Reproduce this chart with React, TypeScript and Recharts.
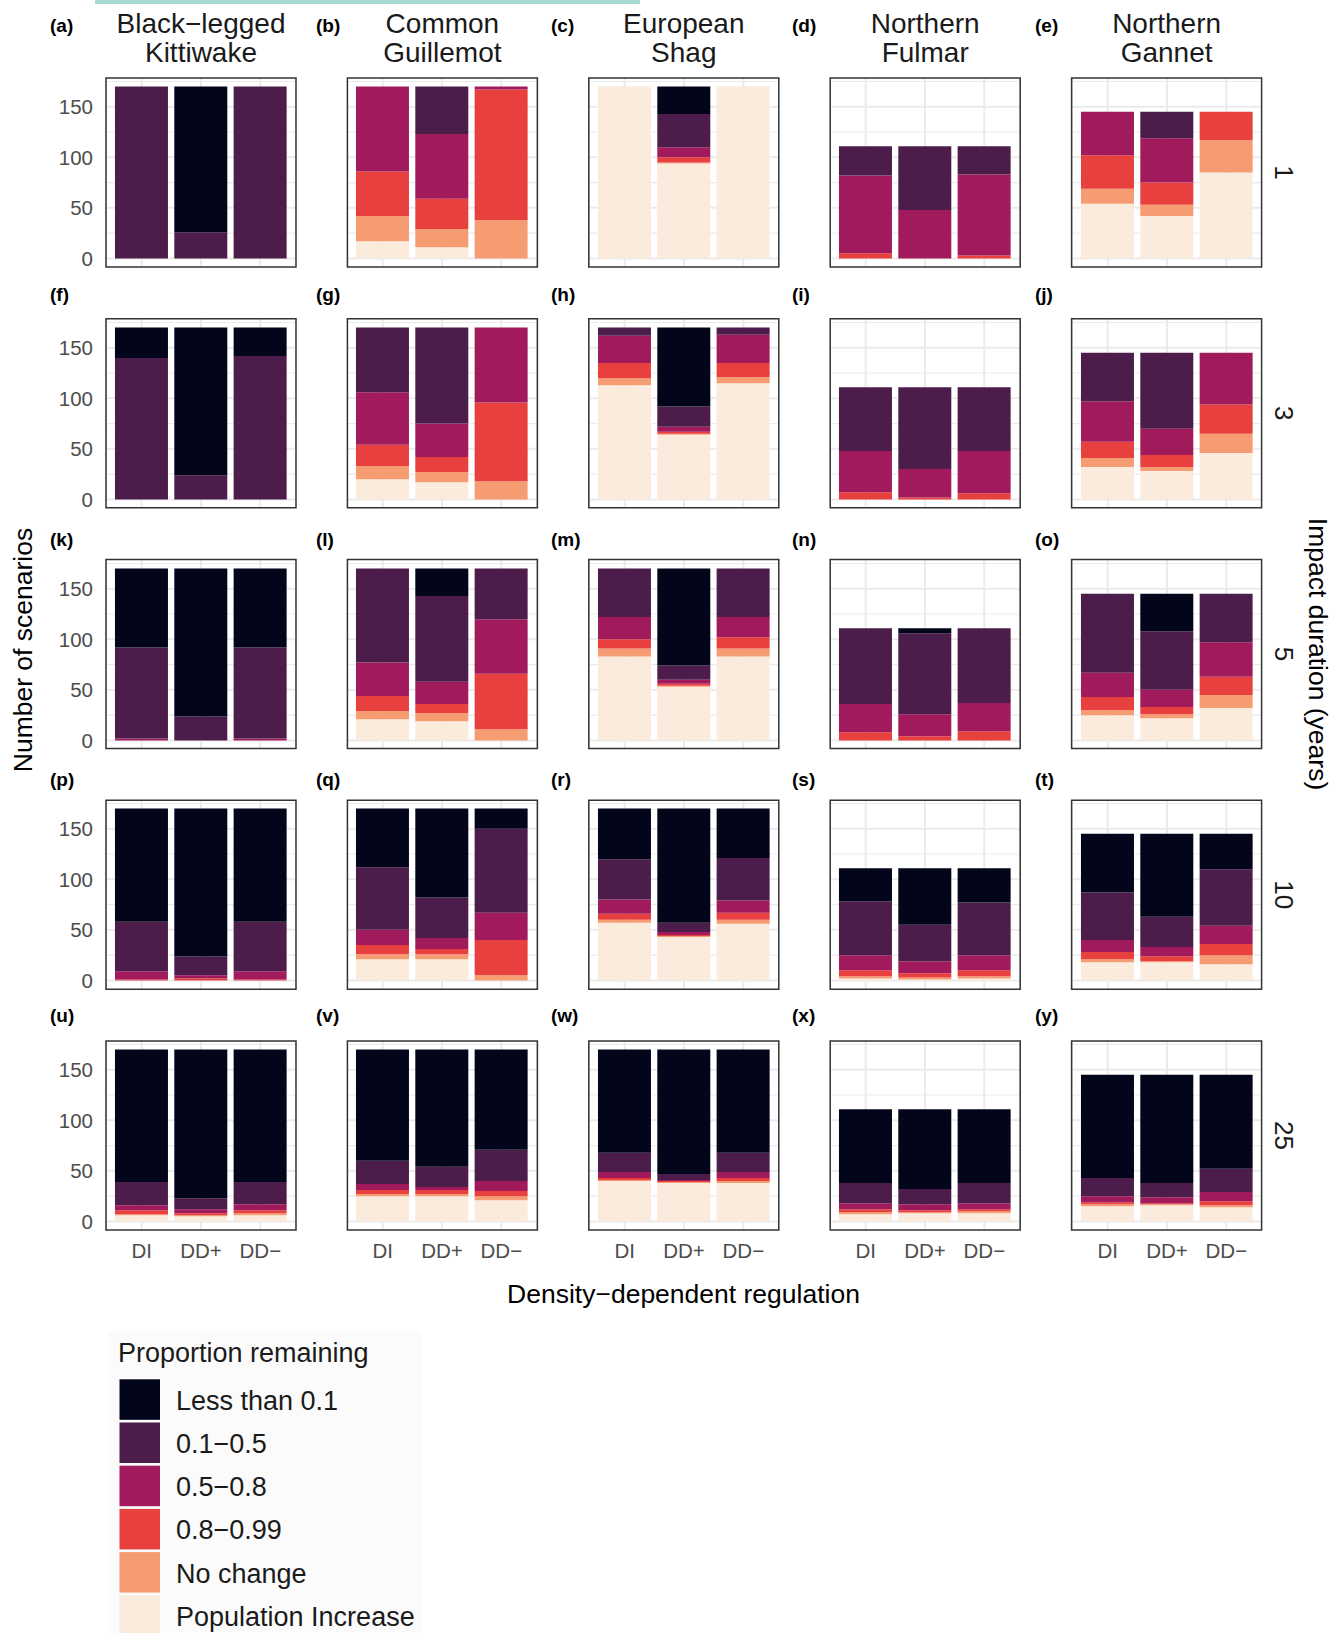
import React from 'react';
import { BarChart, Bar, XAxis, YAxis, CartesianGrid } from 'recharts';

const speciesNames = [
  ['Black\u2212legged', 'Kittiwake'],
  ['Common', 'Guillemot'],
  ['European', 'Shag'],
  ['Northern', 'Fulmar'],
  ['Northern', 'Gannet'],
];
const durations = ['1', '3', '5', '10', '25'];
const regulation = ['DI', 'DD+', 'DD\u2212'];
const panelTags = 'abcdefghijklmnopqrstuvwxy'.split('');

// stacking order, bottom to top
const classes = ['Population Increase', 'No change', '0.8\u22120.99', '0.5\u22120.8', '0.1\u22120.5', 'Less than 0.1'];
const classColours = ['#FAEBDD', '#F69C73', '#E83F3F', '#A11A5B', '#4C1D4B', '#03051A'];

const yTicks = [0, 50, 100, 150];
const yMinor = [25, 75, 125, 175];

// per impact duration (1, 3, 5, 10, 25): DI, DD+, DD− bars, counts in `classes` order
const kittiwake = [
  [[0, 0, 0, 0, 170, 0], [0, 0, 0, 0, 26, 144], [0, 0, 0, 0, 170, 0]],
  [[0, 0, 0, 0, 140, 30], [0, 0, 0, 0, 24, 146], [0, 0, 0, 0, 142, 28]],
  [[0, 0, 0, 2, 90, 78], [0, 0, 0, 0, 24, 146], [0, 0, 0, 2, 90, 78]],
  [[0, 0, 1, 8, 49, 112], [0, 0, 2, 3, 19, 146], [0, 0, 1, 8, 49, 112]],
  [[6, 1, 4, 5, 23, 131], [5, 1, 2, 4, 11, 147], [6, 2, 3, 6, 22, 131]],
];
const guillemot = [
  [[17, 25, 44, 84, 0, 0], [11, 18, 30, 64, 47, 0], [0, 38, 129, 3, 0, 0]],
  [[20, 13, 21, 52, 64, 0], [17, 10, 15, 33, 95, 0], [0, 18, 78, 74, 0, 0]],
  [[21, 8, 15, 33, 93, 0], [19, 8, 9, 22, 85, 27], [0, 11, 55, 54, 50, 0]],
  [[21, 5, 9, 15, 62, 58], [21, 5, 5, 11, 40, 88], [0, 5, 35, 27, 83, 20]],
  [[25, 2, 4, 6, 23, 110], [25, 2, 4, 3, 20, 116], [21, 4, 5, 10, 31, 99]],
];
const shag = [
  [[170, 0, 0, 0, 0, 0], [94, 1, 5, 10, 33, 27], [170, 0, 0, 0, 0, 0]],
  [[113, 7, 15, 27, 8, 0], [64, 1, 2, 5, 20, 78], [115, 6, 14, 28, 7, 0]],
  [[83, 8, 9, 22, 48, 0], [53, 1, 2, 4, 14, 96], [83, 8, 11, 20, 48, 0]],
  [[57, 3, 6, 14, 40, 50], [43, 1, 1, 3, 9, 113], [56, 4, 7, 12, 42, 49]],
  [[40, 1, 2, 6, 19, 102], [38, 1, 1, 1, 6, 123], [38, 2, 3, 6, 19, 102]],
];
const fulmar = [
  [[0, 0, 5, 77, 29, 0], [0, 0, 0, 48, 63, 0], [0, 0, 3, 80, 28, 0]],
  [[0, 0, 7, 41, 63, 0], [0, 0, 2, 28, 81, 0], [0, 0, 6, 42, 63, 0]],
  [[0, 0, 8, 28, 75, 0], [0, 0, 4, 22, 80, 5], [0, 0, 9, 28, 74, 0]],
  [[2, 2, 6, 15, 53, 33], [1, 2, 4, 12, 36, 56], [2, 2, 6, 15, 52, 34]],
  [[7, 2, 3, 6, 20, 73], [8, 1, 2, 6, 15, 79], [8, 2, 2, 6, 20, 73]],
];
const gannet = [
  [[54, 15, 33, 43, 0, 0], [42, 11, 22, 44, 26, 0], [85, 32, 28, 0, 0, 0]],
  [[32, 9, 16, 40, 48, 0], [28, 4, 12, 26, 75, 0], [46, 19, 29, 51, 0, 0]],
  [[25, 5, 13, 24, 78, 0], [22, 4, 7, 17, 58, 37], [32, 13, 18, 34, 48, 0]],
  [[18, 3, 7, 12, 47, 58], [18, 1, 5, 9, 30, 82], [16, 9, 11, 18, 56, 35]],
  [[15, 2, 2, 6, 18, 102], [16, 1, 1, 6, 14, 107], [14, 2, 4, 9, 23, 93]],
];
const speciesCounts = [kittiwake, guillemot, shag, fulmar, gannet];

// layout
const PW = 190;
const PH = 189;
const YW = 60;
const XH = 42;
const PAD = 12; // spare room under hidden x axes so tick labels are not clipped
const colX = [106, 347.4, 588.8, 830.2, 1071.6];
const rowY = [78, 318.75, 559.5, 800.25, 1041];
const tagX = [50, 316, 551, 792, 1035];
const tagY = [32, 301, 545.5, 786, 1022];
const FONT = '"Liberation Sans", Arial, Helvetica, sans-serif';

function Panel({ counts, showY, showX }: { counts: number[][]; showY: boolean; showX: boolean }) {
  const rows = regulation.map((reg, i) => {
    const row: Record<string, any> = { reg };
    classes.forEach((_, k) => {
      row['c' + k] = counts[i][k];
    });
    return row;
  });
  const tickStyle = { fontSize: 20.5, fill: '#4d4d4d' };
  return (
    <BarChart
      width={PW + (showY ? YW : 0)}
      height={PH + (showX ? XH : PAD)}
      data={rows}
      margin={{ top: 0, right: 0, bottom: showX ? 0 : PAD, left: 0 }}
      barCategoryGap="5%"
    >
      <CartesianGrid horizontalValues={yMinor} vertical={false} stroke="#ebebeb" strokeWidth={1.1} />
      <CartesianGrid horizontalValues={yTicks} stroke="#ebebeb" strokeWidth={2} />
      <XAxis
        dataKey="reg"
        hide={!showX}
        height={XH}
        padding={{ left: 6, right: 6 }}
        axisLine={false}
        tickLine={false}
        tickSize={6}
        tickMargin={7}
        interval={0}
        tick={tickStyle}
      />
      <YAxis
        type="number"
        domain={[-8.5, 178.5]}
        allowDataOverflow
        ticks={yTicks}
        hide={!showY}
        width={YW}
        axisLine={false}
        tickLine={false}
        tickSize={6}
        tickMargin={7}
        interval={0}
        tick={tickStyle}
      />
      {classes.map((c, k) => (
        <Bar key={c} dataKey={'c' + k} name={c} stackId="s" fill={classColours[k]} isAnimationActive={false} />
      ))}
    </BarChart>
  );
}

export default function App() {
  const legendTop = 1379.3;
  const legendStep = 43.2;
  const legendOrder = classes.map((c, k) => k).reverse();
  return (
    <div
      style={{
        position: 'absolute',
        left: 0,
        top: 0,
        width: 1343,
        height: 1633,
        background: '#ffffff',
        fontFamily: FONT,
        overflow: 'hidden',
      }}
    >
      {durations.map((d, j) =>
        speciesNames.map((s, i) => {
          const showY = i === 0;
          const showX = j === durations.length - 1;
          return (
            <div
              key={`${j}-${i}`}
              style={{ position: 'absolute', left: colX[i] - (showY ? YW : 0), top: rowY[j] }}
            >
              <Panel counts={speciesCounts[i][j]} showY={showY} showX={showX} />
            </div>
          );
        })
      )}

      <svg
        width={1343}
        height={1633}
        style={{ position: 'absolute', left: 0, top: 0, pointerEvents: 'none', fontFamily: FONT }}
      >
        <rect x={95} y={0} width={545} height={4} fill="#a6dccf" />

        {speciesNames.map((s, i) => (
          <g key={'sp' + i}>
            <text x={colX[i] + PW / 2} y={33.3} textAnchor="middle" fontSize={28} fill="#1a1a1a">
              {s[0]}
            </text>
            <text x={colX[i] + PW / 2} y={61.7} textAnchor="middle" fontSize={28} fill="#1a1a1a">
              {s[1]}
            </text>
          </g>
        ))}

        {durations.map((d, j) => (
          <text
            key={'dur' + j}
            x={1284}
            y={rowY[j] + PH / 2}
            textAnchor="middle"
            dominantBaseline="central"
            fontSize={26}
            fill="#1a1a1a"
            transform={`rotate(90 1284 ${rowY[j] + PH / 2})`}
          >
            {d}
          </text>
        ))}

        {durations.map((d, j) =>
          speciesNames.map((s, i) => (
            <g key={'p' + j + '-' + i}>
              <rect x={colX[i]} y={rowY[j]} width={PW} height={PH} fill="none" stroke="#333333" strokeWidth={1.5} />
              <text x={tagX[i]} y={tagY[j]} fontSize={19} fontWeight="bold" fill="#000000">
                ({panelTags[j * 5 + i]})
              </text>
            </g>
          ))
        )}

        <text
          x={23}
          y={650}
          textAnchor="middle"
          dominantBaseline="central"
          fontSize={26.5}
          fill="#000000"
          transform="rotate(-90 23 650)"
        >
          Number of scenarios
        </text>
        <text
          x={1318}
          y={654}
          textAnchor="middle"
          dominantBaseline="central"
          fontSize={26.5}
          fill="#000000"
          transform="rotate(90 1318 654)"
        >
          Impact duration (years)
        </text>
        <text x={683.5} y={1302.5} textAnchor="middle" fontSize={26.5} fill="#000000">
          Density{'\u2212'}dependent regulation
        </text>

        <rect x={108} y={1331} width={313} height={302} fill="#fbfbfb" />
        <text x={118} y={1362} fontSize={27} fill="#1a1a1a">
          Proportion remaining
        </text>
        {legendOrder.map((k, n) => (
          <g key={'lg' + k}>
            <rect x={119.5} y={legendTop + n * legendStep} width={40.5} height={40.5} fill={classColours[k]} />
            <text x={176} y={legendTop + n * legendStep + 30.5} fontSize={27} fill="#1a1a1a">
              {classes[k]}
            </text>
          </g>
        ))}
      </svg>
    </div>
  );
}
